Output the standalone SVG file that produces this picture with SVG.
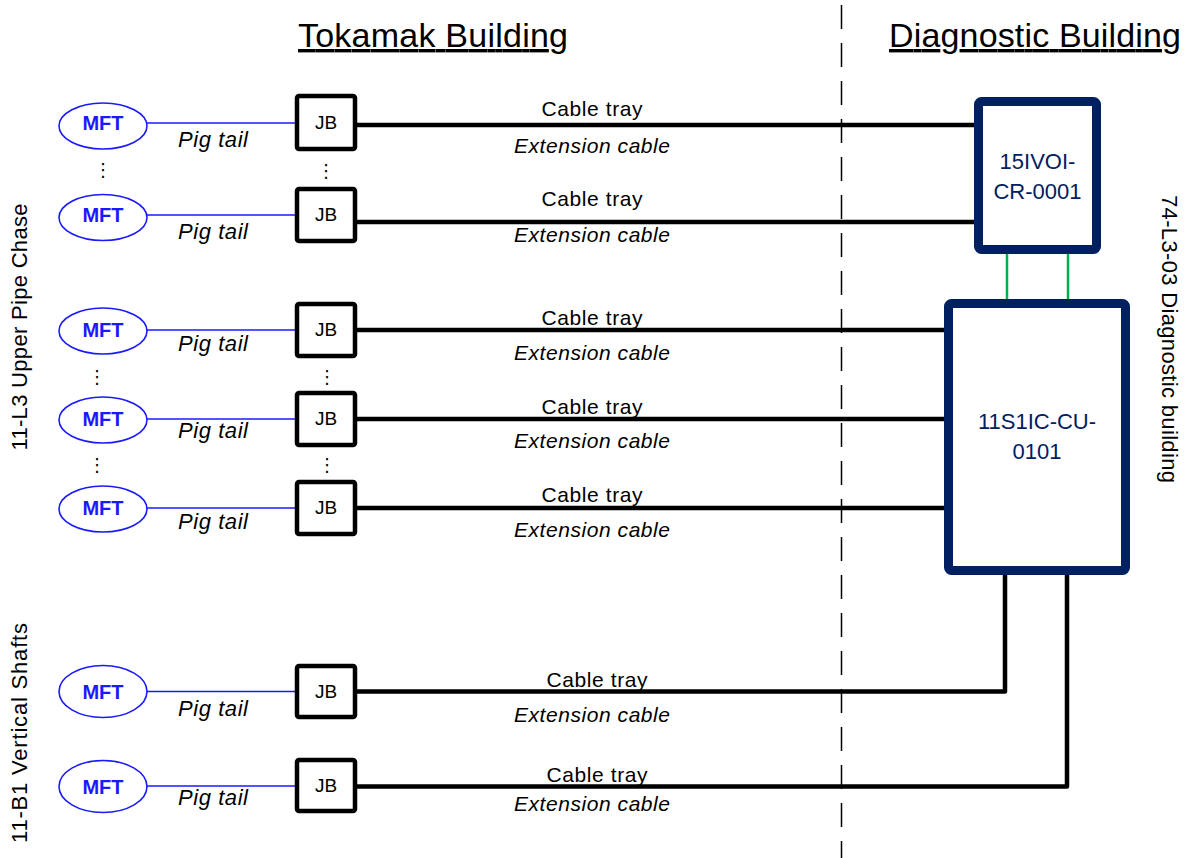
<svg xmlns="http://www.w3.org/2000/svg" width="1192" height="858" viewBox="0 0 1192 858">
<style>
  text { font-family: "Liberation Sans", Arial, sans-serif; }
  .title { font-size: 34px; fill: #000; text-decoration: underline; }
  .side { font-size: 22px; fill: #000; }
  .mft-e { fill: #fff; stroke: #1a1aff; stroke-width: 1.6; }
  .mft-t { font-size: 20px; font-weight: bold; fill: #1a1aff; text-anchor: middle; }
  .jb-r { fill: #fff; stroke: #000; stroke-width: 4.5; }
  .jb-t { font-size: 19px; fill: #000; text-anchor: middle; }
  .pig { fill: none; stroke: #1a1aff; stroke-width: 1.6; }
  .pig-t { font-size: 22px; font-style: italic; fill: #000; text-anchor: middle; }
  .cab { fill: none; stroke: #000; stroke-width: 4.5; stroke-linejoin: round; }
  .cab-t { font-size: 21px; fill: #000; text-anchor: middle; }
  .ext-t { font-size: 21px; font-style: italic; fill: #000; text-anchor: middle; }
  .big-r { fill: #fff; stroke: #002060; stroke-width: 9; }
  .big-t { font-size: 22px; fill: #002060; text-anchor: middle; }
  .grn { stroke: #00b050; stroke-width: 2.5; }
  .dots { font-family: "DejaVu Sans", sans-serif; font-size: 18px; fill: #000; text-anchor: middle; }
</style>

<!-- divider -->
<line x1="841.5" y1="5" x2="841.5" y2="858" stroke="#000" stroke-width="1.5" stroke-dasharray="24 14"/>

<!-- titles -->
<text class="title" x="433" y="47" text-anchor="middle" textLength="270">Tokamak Building</text>
<text class="title" x="1035" y="47" text-anchor="middle" textLength="292">Diagnostic Building</text>

<!-- side labels -->
<text class="side" transform="translate(27,327) rotate(-90)" text-anchor="middle" textLength="247">11-L3 Upper Pipe Chase</text>
<text class="side" transform="translate(27,733) rotate(-90)" text-anchor="middle" textLength="220">11-B1 Vertical Shafts</text>
<text class="side" transform="translate(1162,339) rotate(90)" text-anchor="middle" textLength="288">74-L3-03 Diagnostic building</text>

<!-- connectors -->
<g id="connectors">
  <line class="pig" x1="147" y1="123" x2="296" y2="123"/>
  <line class="pig" x1="147" y1="215" x2="296" y2="215"/>
  <line class="pig" x1="147" y1="330" x2="296" y2="330"/>
  <line class="pig" x1="147" y1="419" x2="296" y2="419"/>
  <line class="pig" x1="147" y1="508" x2="296" y2="508"/>
  <line class="pig" x1="147" y1="691.5" x2="296" y2="691.5"/>
  <line class="pig" x1="147" y1="786" x2="296" y2="786"/>

  <line class="cab" x1="357" y1="125" x2="978" y2="125"/>
  <line class="cab" x1="357" y1="222" x2="978" y2="222"/>
  <line class="cab" x1="357" y1="330" x2="948" y2="330"/>
  <line class="cab" x1="357" y1="419" x2="948" y2="419"/>
  <line class="cab" x1="357" y1="508" x2="948" y2="508"/>
  <polyline class="cab" points="357,691.5 1005,691.5 1005,572"/>
  <polyline class="cab" points="357,786.5 1067,786.5 1067,572"/>

  <line class="grn" x1="1007" y1="254" x2="1007" y2="299"/>
  <line class="grn" x1="1068" y1="254" x2="1068" y2="299"/>

  <text class="pig-t" x="213" y="147" textLength="70">Pig tail</text>
  <text class="pig-t" x="213" y="239" textLength="70">Pig tail</text>
  <text class="pig-t" x="213" y="351" textLength="70">Pig tail</text>
  <text class="pig-t" x="213" y="438" textLength="70">Pig tail</text>
  <text class="pig-t" x="213" y="529" textLength="70">Pig tail</text>
  <text class="pig-t" x="213" y="716" textLength="70">Pig tail</text>
  <text class="pig-t" x="213" y="805" textLength="70">Pig tail</text>

  <text class="cab-t" x="592" y="116" textLength="101">Cable tray</text>
  <text class="cab-t" x="592" y="206" textLength="101">Cable tray</text>
  <text class="cab-t" x="592" y="325" textLength="101">Cable tray</text>
  <text class="cab-t" x="592" y="414" textLength="101">Cable tray</text>
  <text class="cab-t" x="592" y="502" textLength="101">Cable tray</text>
  <text class="cab-t" x="597" y="687" textLength="101">Cable tray</text>
  <text class="cab-t" x="597" y="782" textLength="101">Cable tray</text>

  <text class="ext-t" x="592" y="153" textLength="156">Extension cable</text>
  <text class="ext-t" x="592" y="242" textLength="156">Extension cable</text>
  <text class="ext-t" x="592" y="360" textLength="156">Extension cable</text>
  <text class="ext-t" x="592" y="448" textLength="156">Extension cable</text>
  <text class="ext-t" x="592" y="537" textLength="156">Extension cable</text>
  <text class="ext-t" x="592" y="722" textLength="156">Extension cable</text>
  <text class="ext-t" x="592" y="811" textLength="156">Extension cable</text>
</g>

<!-- ellipsis dots -->
<text class="dots" x="103" y="176">⋮</text>
<text class="dots" x="326" y="177">⋮</text>
<text class="dots" x="97" y="383">⋮</text>
<text class="dots" x="327" y="383">⋮</text>
<text class="dots" x="97" y="471">⋮</text>
<text class="dots" x="327" y="471">⋮</text>

<!-- MFT nodes -->
<g id="mft1"><ellipse class="mft-e" cx="103" cy="126" rx="44" ry="23"/><text class="mft-t" x="103" y="130">MFT</text></g>
<g id="mft2"><ellipse class="mft-e" cx="103" cy="217.5" rx="44" ry="23"/><text class="mft-t" x="103" y="222">MFT</text></g>
<g id="mft3"><ellipse class="mft-e" cx="103" cy="331" rx="44" ry="23"/><text class="mft-t" x="103" y="337">MFT</text></g>
<g id="mft4"><ellipse class="mft-e" cx="103" cy="420" rx="44" ry="23"/><text class="mft-t" x="103" y="426">MFT</text></g>
<g id="mft5"><ellipse class="mft-e" cx="103" cy="509" rx="44" ry="23"/><text class="mft-t" x="103" y="515">MFT</text></g>
<g id="mft6"><ellipse class="mft-e" cx="103" cy="691.5" rx="44" ry="26"/><text class="mft-t" x="103" y="699">MFT</text></g>
<g id="mft7"><ellipse class="mft-e" cx="103" cy="786.5" rx="44" ry="26"/><text class="mft-t" x="103" y="794">MFT</text></g>

<!-- JB nodes -->
<g id="jb1"><rect class="jb-r" x="297" y="96" width="58" height="53" rx="2"/><text class="jb-t" x="326" y="129">JB</text></g>
<g id="jb2"><rect class="jb-r" x="297" y="189" width="58" height="52" rx="2"/><text class="jb-t" x="326" y="221">JB</text></g>
<g id="jb3"><rect class="jb-r" x="297" y="304" width="58" height="52" rx="2"/><text class="jb-t" x="326" y="336">JB</text></g>
<g id="jb4"><rect class="jb-r" x="297" y="393" width="58" height="52" rx="2"/><text class="jb-t" x="326" y="425">JB</text></g>
<g id="jb5"><rect class="jb-r" x="297" y="482" width="58" height="52" rx="2"/><text class="jb-t" x="326" y="514">JB</text></g>
<g id="jb6"><rect class="jb-r" x="297" y="666" width="58" height="51" rx="2"/><text class="jb-t" x="326" y="698">JB</text></g>
<g id="jb7"><rect class="jb-r" x="297" y="760" width="58" height="51" rx="2"/><text class="jb-t" x="326" y="792">JB</text></g>

<!-- cubicles -->
<g id="cr0001">
  <rect class="big-r" x="978.5" y="101.5" width="118" height="148" rx="3"/>
  <text class="big-t" x="1037.5" y="169">15IVOI-</text>
  <text class="big-t" x="1037.5" y="199">CR-0001</text>
</g>
<g id="cu0101">
  <rect class="big-r" x="948.5" y="303.5" width="177" height="267" rx="3"/>
  <text class="big-t" x="1037" y="429">11S1IC-CU-</text>
  <text class="big-t" x="1037" y="459">0101</text>
</g>
</svg>
